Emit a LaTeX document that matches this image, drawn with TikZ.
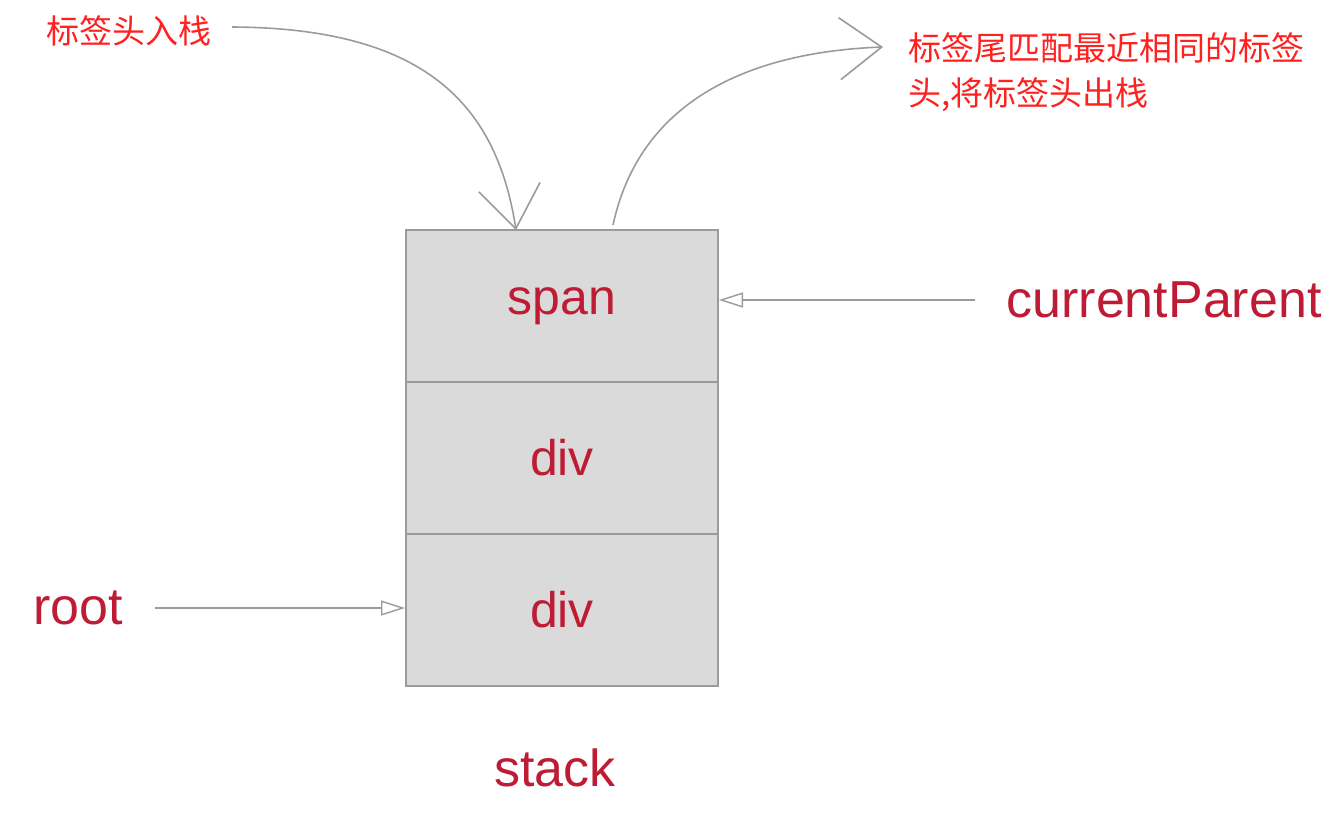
\documentclass[tikz,border=0pt]{standalone}
\usepackage{fontspec}
\setmainfont{Liberation Sans}
\newfontfamily\cjk{Noto Sans CJK SC}
\usetikzlibrary{arrows.meta}
\definecolor{lbl}{RGB}{190,28,52}
\definecolor{cn}{RGB}{255,32,32}
\definecolor{edge}{RGB}{155,155,155}
\definecolor{cellfill}{RGB}{218,218,218}
\begin{document}
\begin{tikzpicture}[x=1pt,y=-1pt,
  cell/.style={draw=edge,line width=2pt,fill=cellfill,minimum width=312pt,minimum height=152pt,inner sep=0pt,
     text=lbl,font=\fontsize{50}{58}\selectfont},
  latin/.style={text=lbl,font=\fontsize{52}{60}\selectfont,inner sep=0pt},
  cnlabel/.style={text=cn,font=\cjk\fontsize{33}{45}\selectfont,inner sep=0pt,align=left},
  curvearrow/.style={draw=edge,line width=1.6pt,-{Straight Barb[length=42pt,width=62pt,line width=1.6pt]}},
  ptr/.style={draw=edge,line width=1.6pt,-{Triangle[open,length=24pt,width=15pt,line width=1.4pt]}}]
\useasboundingbox (0,0) rectangle (1337,817);
\node[cell] (span) at (562,306) {span};
\node[cell] (div1) at (562,458) {div};
\node[cell] (div2) at (562,610) {div};
\node[latin] (cp) at (1164,300) {currentParent};
\node[latin] (root) at (78,608) {root};
\node[latin] (stack) at (555,768) {stack};
\node[cnlabel,anchor=west] (push) at (46,31) {标签头入栈};
\node[cnlabel,anchor=north west] (pop) at (908,32) {标签尾匹配最近相同的标签\\头,将标签头出栈};
\coordinate (pushstart) at (232,27);
\coordinate (pushend) at (516,230);
\coordinate (popstart) at (613,225);
\coordinate (popend) at (883,47);
\coordinate (cpstart) at (975,300);
\coordinate (rootstart) at (155,608);
\draw[curvearrow] (pushstart) .. controls (420,28) and (496,100) .. (pushend);
\draw[curvearrow] (popstart) .. controls (640,100) and (750,52) .. (popend);
\draw[ptr] (cpstart) -- (cpstart -| span.east);
\draw[ptr] (rootstart) -- (rootstart -| div2.west);
\end{tikzpicture}
\end{document}
